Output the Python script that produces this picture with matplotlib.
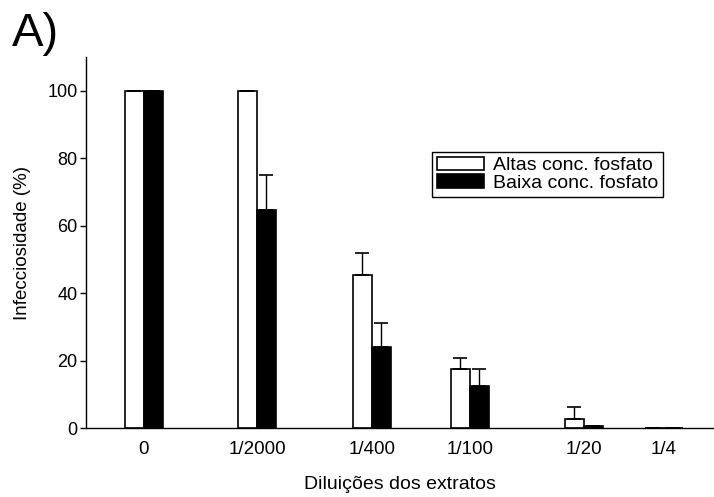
import matplotlib.pyplot as plt
import numpy as np

plt.rcParams['font.family'] = ['Liberation Sans', 'DejaVu Sans']

# dados
diluicoes = ['0', '1/2000', '1/400', '1/100', '1/20', '1/4']
altas = [100, 100, 45.5, 17.5, 2.6, 0]
altas_err = [0, 0, 6.3, 3.2, 3.5, 0]
baixa = [100, 64.5, 24, 12.6, 0.5, 0]
baixa_err = [0, 10.5, 7, 5, 0, 0]

# posicao (nao uniforme) de cada grupo no eixo x
pos = np.array([58, 171, 286, 384, 498, 578])
larg = 19

fig = plt.figure(figsize=(7.14, 4.97), dpi=100)
ax = fig.add_axes([0.1204, 0.1388, 0.8796, 0.7465])

zeros = np.zeros(len(altas))
ax.bar(pos - larg/2, altas, larg, color='white', edgecolor='black', linewidth=1.2,
       yerr=[zeros, altas_err], error_kw=dict(ecolor='black', elinewidth=1, capsize=5, capthick=1.2),
       label='Altas conc. fosfato')
ax.bar(pos + larg/2, baixa, larg, color='black', edgecolor='black', linewidth=1.2,
       yerr=[zeros, baixa_err], error_kw=dict(ecolor='black', elinewidth=1, capsize=5, capthick=1.2),
       label='Baixa conc. fosfato')

ax.set_xlim(0, 628)
ax.set_ylim(0, 110)
ax.set_yticks([0, 20, 40, 60, 80, 100])
ax.set_xticks(pos)
ax.set_xticklabels(diluicoes)
ax.tick_params(axis='x', length=0, pad=9, labelsize=13.5)
ax.tick_params(axis='y', length=4, width=1, direction='out', labelsize=13, pad=2)
for s in ['top', 'right']:
    ax.spines[s].set_visible(False)
ax.spines['left'].set_linewidth(1)
ax.spines['bottom'].set_linewidth(1)

ax.set_ylabel('Infecciosidade (%)', fontsize=13.5, labelpad=12)
ax.set_xlabel('Diluições dos extratos', fontsize=14, labelpad=13)

leg = ax.legend(loc='upper left', bbox_to_anchor=(0.551, 0.744), fontsize=14,
                fancybox=False, framealpha=1, edgecolor='black', borderpad=0.25,
                labelspacing=0.0, handlelength=2.4, handleheight=0.7, handletextpad=0.5,
                borderaxespad=0)
leg.get_frame().set_linewidth(1)

fig.text(0.016, 0.975, 'A)', fontsize=34, va='top', ha='left')

fig.savefig('out.png', dpi=100)
